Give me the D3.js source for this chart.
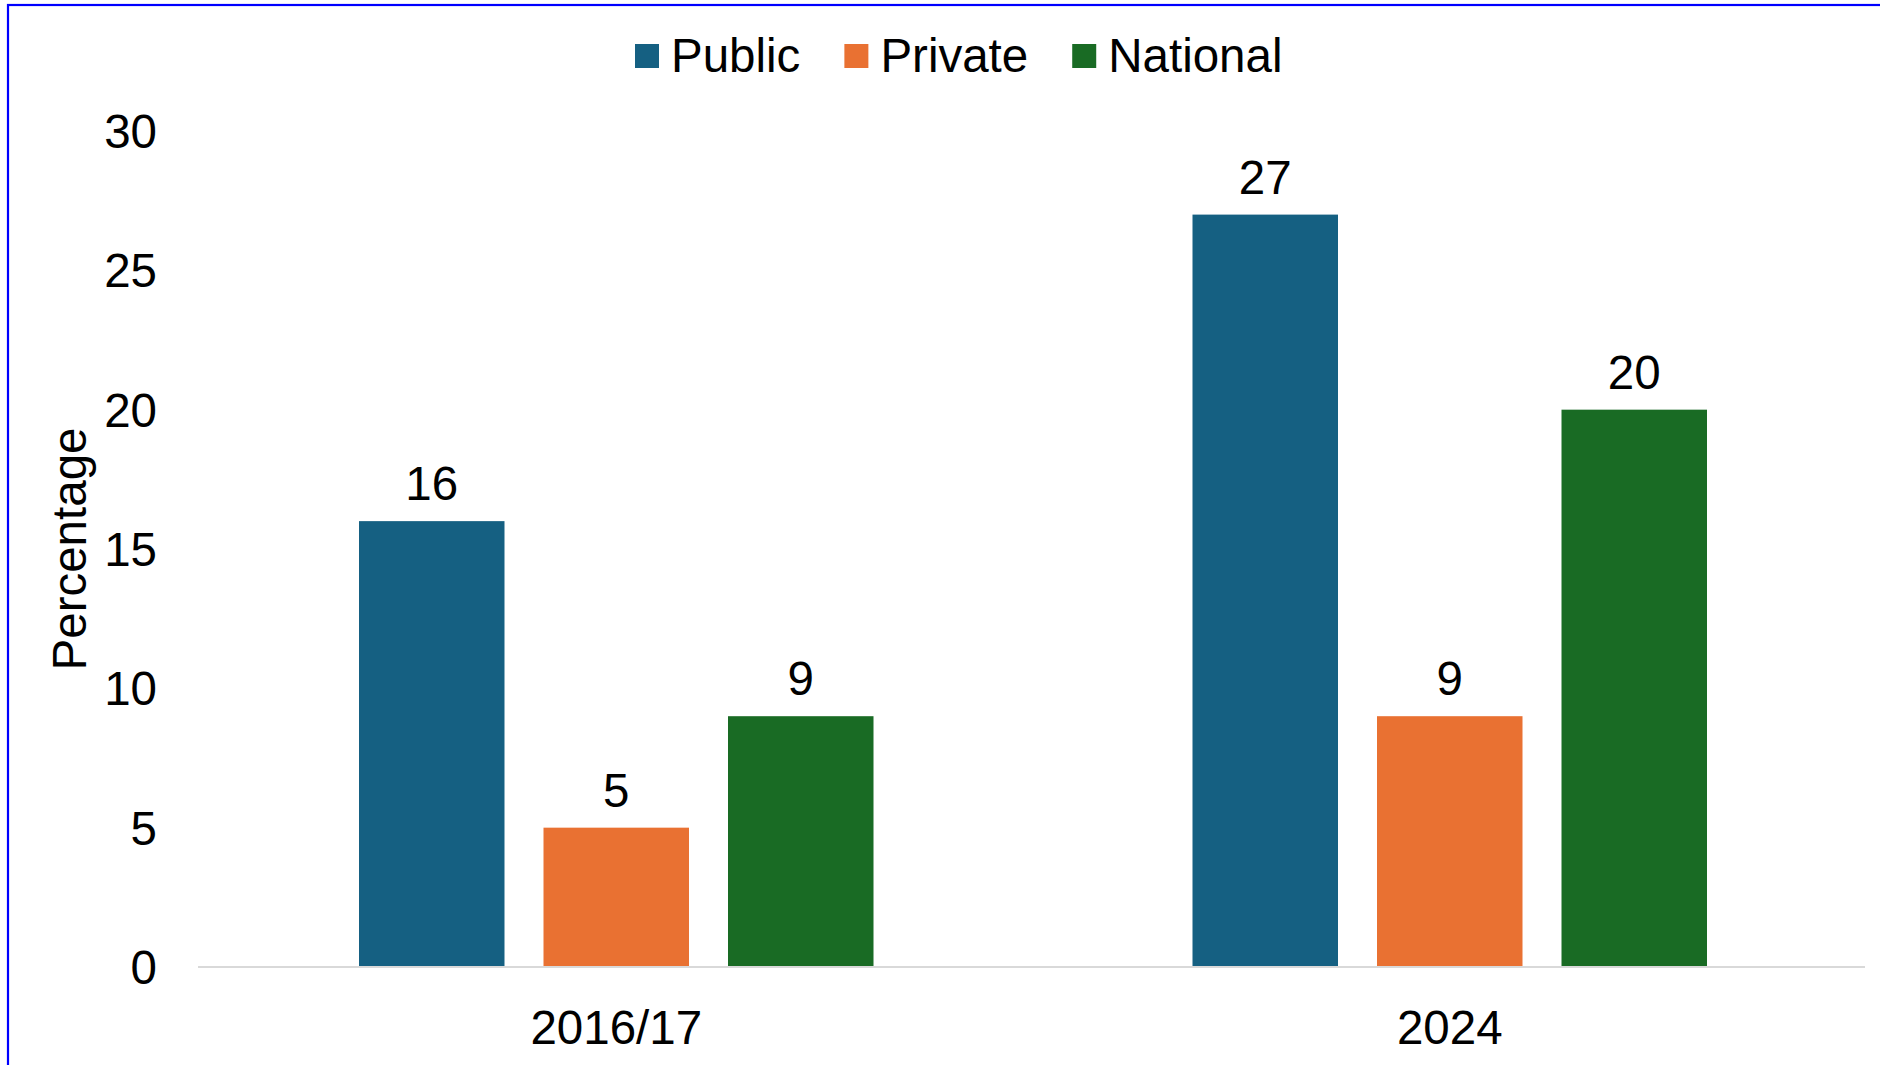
<!DOCTYPE html>
<html>
<head>
<meta charset="utf-8">
<script src="https://cdn.jsdelivr.net/npm/d3@7"></script>
<style>
  html, body { margin: 0; padding: 0; background: #fff; }
  svg { display: block; }
  text { font-family: "Liberation Sans", Arial, sans-serif; fill: #000; }
</style>
</head>
<body>
<svg id="chart" width="1880" height="1065"></svg>
<script>
// Survey results by school type
const categories = ["2016/17", "2024"];
const seriesNames = ["Public", "Private", "National"];
const publicValues = [16, 27];
const privateValues = [5, 9];
const nationalValues = [9, 20];
const yTicks = [0, 5, 10, 15, 20, 25, 30];
const colors = ["#156082", "#E97132", "#196B24"];

const seriesValues = [publicValues, privateValues, nationalValues];

const W = 1880, H = 1065;
const plot = { left: 198, right: 1865, top: 131, bottom: 967 };
const fontSize = 47.5;

const svg = d3.select("#chart");

// frame
svg.append("rect")
  .attr("x", 8).attr("y", 5)
  .attr("width", W + 20).attr("height", H + 20)
  .attr("fill", "none")
  .attr("stroke", "#0000ff")
  .attr("stroke-width", 2.2);

const y = d3.scaleLinear().domain([0, 30]).range([plot.bottom, plot.top]);

const x0 = d3.scaleBand()
  .domain(categories)
  .range([plot.left + 1.5, plot.right + 1.5])
  .paddingInner(0).paddingOuter(0);

const x1 = d3.scaleBand()
  .domain(seriesNames)
  .range([0, x0.bandwidth()])
  .paddingInner(0.2114)
  .paddingOuter(0.8645);

// y axis labels (no axis line, no ticks)
const yAxis = d3.axisLeft(y).tickValues(yTicks).tickSize(0).tickPadding(0);
const yg = svg.append("g")
  .attr("transform", `translate(${157},0)`)
  .call(yAxis);
yg.select(".domain").remove();
yg.selectAll("text")
  .attr("font-size", fontSize)
  .attr("font-family", "Liberation Sans, Arial, sans-serif")
  .attr("fill", "#000")
  .attr("dy", "0.35em");

// bars
const rows = categories.map((c, i) => ({
  cat: c,
  values: seriesNames.map((s, j) => ({ series: s, value: seriesValues[j][i], idx: j }))
}));

const groups = svg.append("g").selectAll("g")
  .data(rows)
  .join("g")
  .attr("transform", d => `translate(${x0(d.cat)},0)`);

groups.selectAll("rect")
  .data(d => d.values)
  .join("rect")
  .attr("x", d => x1(d.series))
  .attr("y", d => y(d.value))
  .attr("width", x1.bandwidth())
  .attr("height", d => y(0) - y(d.value))
  .attr("fill", d => colors[d.idx]);

groups.selectAll("text.val")
  .data(d => d.values)
  .join("text")
  .attr("class", "val")
  .attr("x", d => x1(d.series) + x1.bandwidth() / 2)
  .attr("y", d => y(d.value) - 21)
  .attr("text-anchor", "middle")
  .attr("font-size", fontSize)
  .text(d => d.value);

// baseline
svg.append("line")
  .attr("x1", plot.left).attr("x2", plot.right)
  .attr("y1", y(0)).attr("y2", y(0))
  .attr("stroke", "#d9d9d9")
  .attr("stroke-width", 2);

// x axis labels
const xAxis = d3.axisBottom(x0).tickSize(0).tickPadding(0);
const xg = svg.append("g")
  .attr("transform", `translate(0,${plot.bottom})`)
  .call(xAxis);
xg.select(".domain").remove();
xg.selectAll("text")
  .attr("font-size", fontSize)
  .attr("font-family", "Liberation Sans, Arial, sans-serif")
  .attr("fill", "#000")
  .attr("dy", null)
  .attr("y", 77);

// y axis title
svg.append("text")
  .attr("transform", `translate(86,${(plot.top + plot.bottom) / 2}) rotate(-90)`)
  .attr("text-anchor", "middle")
  .attr("font-size", fontSize)
  .text("Percentage");

// legend
const legend = svg.append("g");
let lx = 635;
seriesNames.forEach((s, i) => {
  legend.append("rect")
    .attr("x", lx).attr("y", 44)
    .attr("width", 24).attr("height", 24)
    .attr("fill", colors[i]);
  const t = legend.append("text")
    .attr("x", lx + 36).attr("y", 72)
    .attr("font-size", fontSize)
    .text(s);
  lx += 36 + t.node().getComputedTextLength() + 44;
});
</script>
</body>
</html>
